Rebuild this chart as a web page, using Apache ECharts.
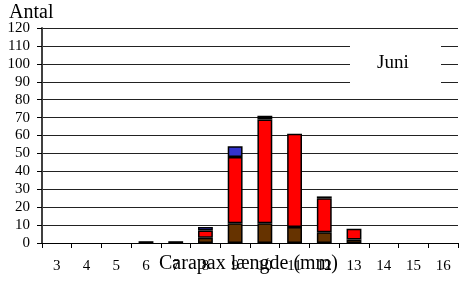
<!DOCTYPE html>
<html>
<head>
<meta charset="utf-8">
<script src="https://cdn.jsdelivr.net/npm/echarts@6/dist/echarts.min.js"></script>
<style>
html,body{margin:0;padding:0;background:#fff;}
#main{width:460px;height:286px;}
</style>
</head>
<body>
<div id="main"></div>
<script>
// carapax længde, juni
var categories = ['3','4','5','6','7','8','9','10','11','12','13','14','15','16'];
var brun  = [0,0,0,0,0,3,11,11,9,6,2,0,0,0];
var roed  = [0,0,0,0,0,4,37,58,52,19,6,0,0,0];
var blaa  = [0,0,0,0,0,2,6,0,0,0,0,0,0,0];
var sort  = [0,0,0,1,1,0,0,2,0,1,0,0,0,0];
var yTicks = [0,10,20,30,40,50,60,70,80,90,100,110,120];

var serif = '"Liberation Serif", "Times New Roman", serif';

function serie(navn, farve, data) {
	return {
		name: navn,
		type: 'bar',
		stack: 'i alt',
		barWidth: '50%',
		itemStyle: { color: farve, borderColor: '#000', borderWidth: 1.5 },
		// tomme søjler tegnes ikke
		data: data.map(function (v) { return v === 0 ? '-' : v; })
	};
}

var option = {
	animation: false,
	grid: { left: 42, top: 28, right: 2, bottom: 43 },
	xAxis: {
		type: 'category',
		data: categories,
		axisLine: { lineStyle: { color: '#000', width: 1 } },
		axisTick: { show: true, length: 5, lineStyle: { color: '#000' } },
		axisLabel: { color: '#000', fontFamily: serif, fontSize: 15, margin: 16 }
	},
	yAxis: {
		type: 'value',
		min: 0,
		max: 120,
		interval: 10,
		axisLine: { show: true, lineStyle: { color: '#404040', width: 2 } },
		axisTick: { show: true, length: 5, lineStyle: { color: '#000' } },
		axisLabel: { color: '#000', fontFamily: serif, fontSize: 15, margin: 12,
			formatter: function (v) { return yTicks.indexOf(v) >= 0 ? v : ''; } },
		splitLine: { lineStyle: { color: '#222', width: 1 } }
	},
	series: [
		serie('brun', '#663300', brun),
		serie('rød', '#ff0000', roed),
		serie('blå', '#3333cc', blaa),
		serie('sort', '#000000', sort)
	],
	graphic: [
		{ type: 'rect', left: 350, top: 40, shape: { width: 91, height: 50 }, style: { fill: '#fff' }, z: 10 },
		{ type: 'text', left: 377, top: 54, style: { text: 'Juni', font: '19px ' + serif, fill: '#000' }, z: 11 },
		{ type: 'text', left: 9, top: 3, style: { text: 'Antal', font: '20px ' + serif, fill: '#000' }, z: 11 },
		{ type: 'text', left: 159, top: 254, style: { text: 'Carapax længde (mm)', font: '20px ' + serif, fill: '#000' }, z: 11 }
	]
};

var myChart = echarts.init(document.getElementById('main'));
myChart.setOption(option);
</script>
</body>
</html>
